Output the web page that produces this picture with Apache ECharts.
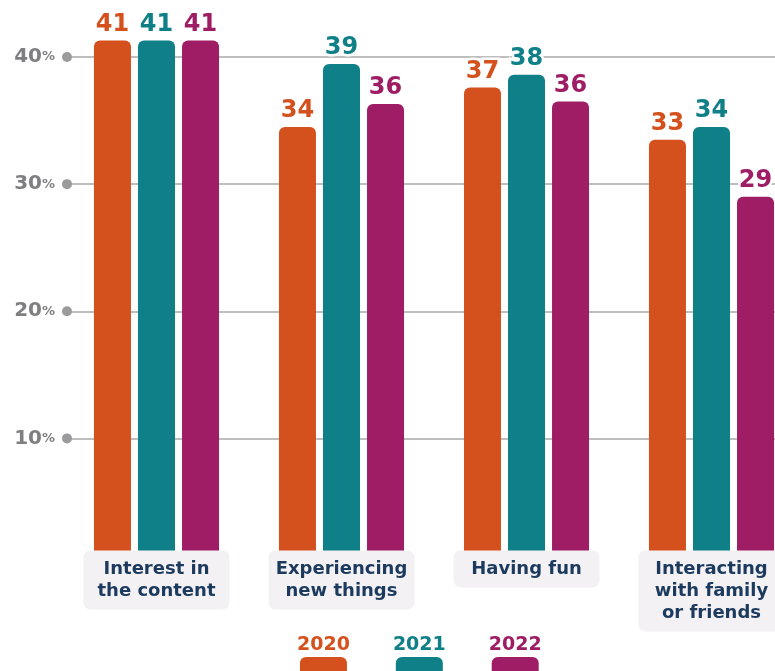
<!DOCTYPE html>
<html>
<head>
<meta charset="utf-8">
<script src="https://cdn.jsdelivr.net/npm/echarts@6/dist/echarts.min.js"></script>
<style>html,body{margin:0;padding:0;background:#fff;overflow:hidden}#c{width:806px;height:671px}</style>
</head>
<body>
<div id="c"></div>
<script>
const categories = ['Interest in\nthe content', 'Experiencing\nnew things', 'Having fun', 'Interacting\nwith family\nor friends'];
const years = ['2020', '2021', '2022'];
const values2020 = [41.3, 34.5, 37.6, 33.5];
const values2021 = [41.3, 39.45, 38.6, 34.5];
const values2022 = [41.3, 36.3, 36.5, 29.0];
const labels2020 = [41, 34, 37, 33];
const labels2021 = [41, 39, 38, 34];
const labels2022 = [41, 36, 36, 29];
const yTickLabels = ['10', '20', '30', '40'];

const colors = ['#d4511e', '#0f7f88', '#9e1d64'];
const values = [values2020, values2021, values2022];
const labels = [labels2020, labels2021, labels2022];
const FONT = 'DejaVu Sans';

const legendRich = {};
years.forEach((y, i) => {
  legendRich['t' + y] = { color: colors[i], fontSize: 19, fontWeight: 'bold', fontFamily: FONT, align: 'center', lineHeight: 24, height: 24 };
  legendRich['b' + y] = { backgroundColor: colors[i], width: 47, height: 22, borderRadius: 6, align: 'center' };
});

const chart = echarts.init(document.getElementById('c'), null, { renderer: 'canvas' });
chart.setOption({
  animation: false,
  grid: { left: 64, right: 2, top: 57, bottom: 105.5, containLabel: false },
  legend: {
    data: years,
    left: 287,
    top: 628,
    itemWidth: 0,
    itemHeight: 0,
    itemGap: 38,
    icon: 'rect',
    selectedMode: false,
    formatter: name => '{t' + name + '|' + name + '}\n{b' + name + '|}',
    textStyle: { rich: legendRich }
  },
  xAxis: {
    type: 'category',
    data: categories,
    z: 20,
    axisLine: { show: false },
    axisTick: { show: false },
    axisLabel: {
      interval: 0,
      margin: -15,
      verticalAlign: 'top',
      color: '#1b3a5e',
      fontSize: 18,
      fontWeight: 'bold',
      fontFamily: FONT,
      lineHeight: 22,
      backgroundColor: '#f3f1f3',
      borderRadius: 7,
      padding: [8, 8, 7, 8],
      width: 130,
      align: 'center',
      overflow: 'none'
    }
  },
  yAxis: {
    type: 'value',
    min: 0,
    max: 40,
    interval: 10,
    axisLine: { show: false },
    axisTick: { show: false },
    splitLine: { show: true, showMinLine: false, lineStyle: { color: '#a8a8a8', width: 1.5 } },
    axisLabel: {
      margin: -8,
      formatter: v => {
        const s = String(v);
        if (yTickLabels.indexOf(s) < 0) return '';
        return '{n|' + s + '}{p|%}{s|}{d|}';
      },
      rich: {
        n: { fontSize: 20, fontWeight: 'bold', color: '#7f7f81', fontFamily: FONT },
        p: { fontSize: 13, fontWeight: 'bold', color: '#7f7f81', fontFamily: FONT },
        s: { width: 7 },
        d: { width: 10, height: 10, borderRadius: 5, backgroundColor: '#9b9b9d' }
      }
    }
  },
  series: years.map((y, i) => ({
    name: y,
    type: 'bar',
    data: values[i],
    barWidth: 37,
    barGap: '19%',
    clip: false,
    z: 2,
    itemStyle: { color: colors[i], borderRadius: [6, 6, 0, 0] },
    label: {
      show: true,
      position: 'top',
      distance: 4,
      formatter: p => String(labels[p.seriesIndex][p.dataIndex]),
      color: colors[i],
      fontSize: 24,
      fontWeight: 'bold',
      fontFamily: FONT,
      textBorderColor: '#ffffff',
      textBorderWidth: 5
    }
  }))
});
</script>
</body>
</html>
